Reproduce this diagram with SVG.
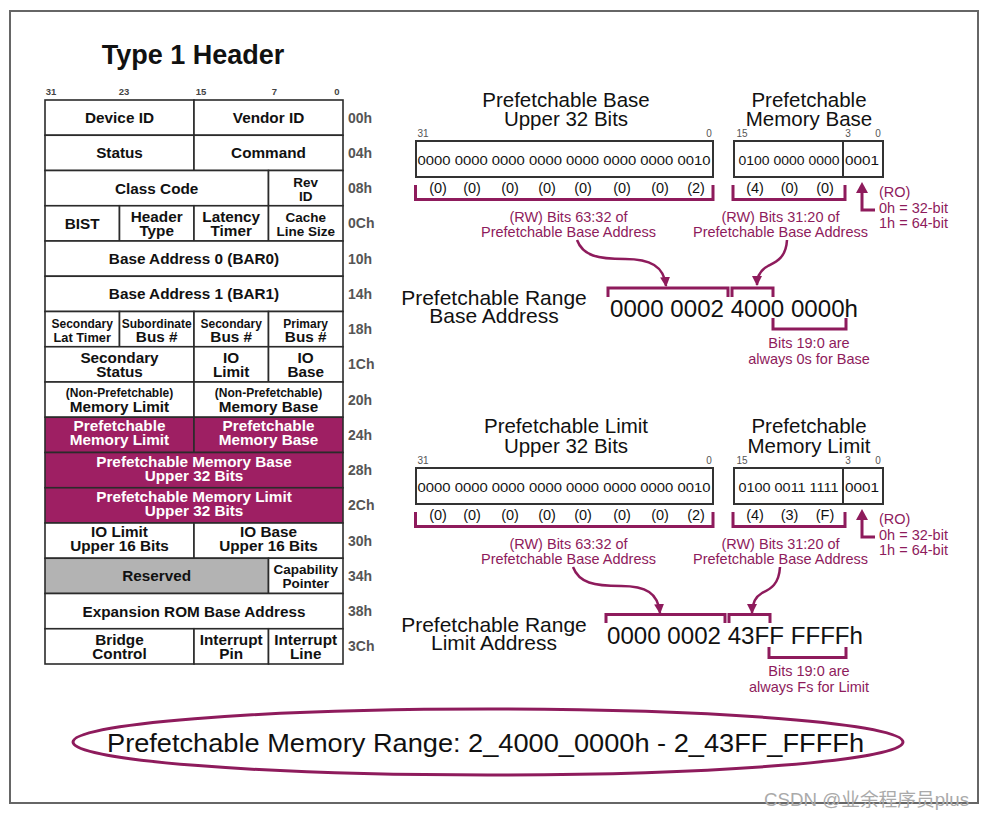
<svg xmlns="http://www.w3.org/2000/svg" width="987" height="819" viewBox="0 0 987 819">
<defs>
<style>
.cell{fill:#fff;stroke:#2b2b2b;stroke-width:1.6}
.pf{fill:#9E1F63;stroke:#2b2b2b;stroke-width:1.6}
.rsv{fill:#B3B3B3;stroke:#2b2b2b;stroke-width:1.6}
.t{font-family:"Liberation Sans",Arial,sans-serif;font-weight:bold;font-size:15.3px;fill:#111;text-anchor:middle}
.ts{font-size:12px}
.tl{font-size:12.8px}
.tm{font-size:13.5px}
.w{fill:#fff}
.off{font-family:"Liberation Sans",Arial,sans-serif;font-weight:bold;font-size:14px;fill:#555}
.bit{font-family:"Liberation Sans",Arial,sans-serif;font-weight:bold;font-size:9.5px;fill:#444;text-anchor:middle}
.ttl{font-family:"Liberation Sans",Arial,sans-serif;font-weight:bold;font-size:27px;fill:#111;text-anchor:middle}
.h{font-family:"Liberation Sans",Arial,sans-serif;font-size:20.5px;fill:#111;text-anchor:middle}
.n{font-family:"Liberation Sans",Arial,sans-serif;font-size:10px;fill:#555;text-anchor:middle}
.box{fill:#fff;stroke:#333;stroke-width:2}
.bin{font-family:"Liberation Sans",Arial,sans-serif;font-size:13px;fill:#111}
.nib{font-family:"Liberation Sans",Arial,sans-serif;font-size:14.5px;fill:#111;text-anchor:middle}
.m{font-family:"Liberation Sans",Arial,sans-serif;font-size:14.5px;fill:#8E1B5C;text-anchor:middle}
.ms{font-family:"Liberation Sans",Arial,sans-serif;font-size:14.5px;fill:#8E1B5C}
.br{fill:none;stroke:#8E1B5C;stroke-width:3}
.ar{fill:none;stroke:#8E1B5C;stroke-width:2.5}
.big{font-family:"Liberation Sans",Arial,sans-serif;font-size:23.5px;fill:#111}
.lbl{font-family:"Liberation Sans",Arial,sans-serif;font-size:21px;fill:#111;text-anchor:middle}
</style>
<marker id="ah" viewBox="0 0 10 10" refX="9" refY="5" markerWidth="10" markerHeight="10" markerUnits="userSpaceOnUse" orient="auto"><path d="M0,0 L10,5 L0,10 z" fill="#8E1B5C"/></marker>
</defs>
<rect x="0" y="0" width="987" height="819" fill="#fff"/>
<rect x="10" y="11" width="968" height="792" fill="none" stroke="#666" stroke-width="2"/>

<g id="title">
<text class="ttl" x="193" y="64">Type 1 Header</text>
<text class="bit" x="51" y="95">31</text>
<text class="bit" x="124" y="95">23</text>
<text class="bit" x="201" y="95">15</text>
<text class="bit" x="274.5" y="95">7</text>
<text class="bit" x="337" y="95">0</text>
</g>

<g id="header-table">
<g id="r00">
<rect class="cell" x="45" y="100" width="149" height="35.25"/><rect class="cell" x="194" y="100" width="149" height="35.25"/>
<text class="t" x="119.5" y="123.1">Device ID</text><text class="t" x="268.5" y="123.1">Vendor ID</text>
<text class="off" x="348" y="122.6">00h</text></g>
<g id="r04">
<rect class="cell" x="45" y="135.25" width="149" height="35.25"/><rect class="cell" x="194" y="135.25" width="149" height="35.25"/>
<text class="t" x="119.5" y="158.4">Status</text><text class="t" x="268.5" y="158.4">Command</text>
<text class="off" x="348" y="157.9">04h</text></g>
<g id="r08">
<rect class="cell" x="45" y="170.5" width="223.5" height="35.25"/><rect class="cell" x="268.5" y="170.5" width="74.5" height="35.25"/>
<text class="t" x="156.7" y="193.6">Class Code</text>
<text class="t tm" x="305.7" y="187">Rev</text><text class="t tm" x="305.7" y="201">ID</text>
<text class="off" x="348" y="193.1">08h</text></g>
<g id="r0C">
<rect class="cell" x="45" y="205.75" width="74.5" height="35.25"/><rect class="cell" x="119.5" y="205.75" width="74.5" height="35.25"/><rect class="cell" x="194" y="205.75" width="74.5" height="35.25"/><rect class="cell" x="268.5" y="205.75" width="74.5" height="35.25"/>
<text class="t" x="82.2" y="228.9">BIST</text>
<text class="t" x="156.7" y="221.9">Header</text><text class="t" x="156.7" y="235.9">Type</text>
<text class="t" x="231.2" y="221.9">Latency</text><text class="t" x="231.2" y="235.9">Timer</text>
<text class="t tm" x="305.7" y="221.9">Cache</text><text class="t tm" x="305.7" y="235.9">Line Size</text>
<text class="off" x="348" y="228.4">0Ch</text></g>
<g id="r10">
<rect class="cell" x="45" y="241" width="298" height="35.25"/>
<text class="t" x="194" y="264.1">Base Address 0 (BAR0)</text>
<text class="off" x="348" y="263.6">10h</text></g>
<g id="r14">
<rect class="cell" x="45" y="276.25" width="298" height="35.25"/>
<text class="t" x="194" y="299.4">Base Address 1 (BAR1)</text>
<text class="off" x="348" y="298.9">14h</text></g>
<g id="r18">
<rect class="cell" x="45" y="311.5" width="74.5" height="35.25"/><rect class="cell" x="119.5" y="311.5" width="74.5" height="35.25"/><rect class="cell" x="194" y="311.5" width="74.5" height="35.25"/><rect class="cell" x="268.5" y="311.5" width="74.5" height="35.25"/>
<text class="t ts" x="82.2" y="327.5">Secondary</text><text class="t tl" x="82.2" y="341.5">Lat Timer</text>
<text class="t ts" x="156.7" y="327.5">Subordinate</text><text class="t" x="156.7" y="341.5">Bus #</text>
<text class="t ts" x="231.2" y="327.5">Secondary</text><text class="t" x="231.2" y="341.5">Bus #</text>
<text class="t ts" x="305.7" y="327.5">Primary</text><text class="t" x="305.7" y="341.5">Bus #</text>
<text class="off" x="348" y="334.1">18h</text></g>
<g id="r1C">
<rect class="cell" x="45" y="346.75" width="149" height="35.25"/><rect class="cell" x="194" y="346.75" width="74.5" height="35.25"/><rect class="cell" x="268.5" y="346.75" width="74.5" height="35.25"/>
<text class="t" x="119.5" y="362.9">Secondary</text><text class="t" x="119.5" y="376.9">Status</text>
<text class="t" x="231.2" y="362.9">IO</text><text class="t" x="231.2" y="376.9">Limit</text>
<text class="t" x="305.7" y="362.9">IO</text><text class="t" x="305.7" y="376.9">Base</text>
<text class="off" x="348" y="369.4">1Ch</text></g>
<g id="r20">
<rect class="cell" x="45" y="382" width="149" height="35.25"/><rect class="cell" x="194" y="382" width="149" height="35.25"/>
<text class="t ts" x="119.5" y="396.5">(Non-Prefetchable)</text><text class="t" x="119.5" y="411.5">Memory Limit</text>
<text class="t ts" x="268.5" y="396.5">(Non-Prefetchable)</text><text class="t" x="268.5" y="411.5">Memory Base</text>
<text class="off" x="348" y="404.6">20h</text></g>
<g id="r24">
<rect class="pf" x="45" y="417.25" width="149" height="35.25"/><rect class="pf" x="194" y="417.25" width="149" height="35.25"/>
<text class="t w" x="119.5" y="431.4">Prefetchable</text><text class="t w" x="119.5" y="445.4">Memory Limit</text>
<text class="t w" x="268.5" y="431.4">Prefetchable</text><text class="t w" x="268.5" y="445.4">Memory Base</text>
<text class="off" x="348" y="439.9">24h</text></g>
<g id="r28">
<rect class="pf" x="45" y="452.5" width="298" height="35.25"/>
<text class="t w" x="194" y="466.6">Prefetchable Memory Base</text><text class="t w" x="194" y="480.6">Upper 32 Bits</text>
<text class="off" x="348" y="475.1">28h</text></g>
<g id="r2C">
<rect class="pf" x="45" y="487.75" width="298" height="35.25"/>
<text class="t w" x="194" y="501.9">Prefetchable Memory Limit</text><text class="t w" x="194" y="515.9">Upper 32 Bits</text>
<text class="off" x="348" y="510.4">2Ch</text></g>
<g id="r30">
<rect class="cell" x="45" y="523" width="149" height="35.25"/><rect class="cell" x="194" y="523" width="149" height="35.25"/>
<text class="t" x="119.5" y="537.1">IO Limit</text><text class="t" x="119.5" y="551.1">Upper 16 Bits</text>
<text class="t" x="268.5" y="537.1">IO Base</text><text class="t" x="268.5" y="551.1">Upper 16 Bits</text>
<text class="off" x="348" y="545.6">30h</text></g>
<g id="r34">
<rect class="rsv" x="45" y="558.25" width="223.5" height="35.25"/><rect class="cell" x="268.5" y="558.25" width="74.5" height="35.25"/>
<text class="t" x="156.7" y="581.4">Reserved</text>
<text class="t tm" x="305.7" y="574.4">Capability</text><text class="t tm" x="305.7" y="588.4">Pointer</text>
<text class="off" x="348" y="580.9">34h</text></g>
<g id="r38">
<rect class="cell" x="45" y="593.5" width="298" height="35.25"/>
<text class="t" x="194" y="616.6">Expansion ROM Base Address</text>
<text class="off" x="348" y="616.1">38h</text></g>
<g id="r3C">
<rect class="cell" x="45" y="628.75" width="149" height="35.25"/><rect class="cell" x="194" y="628.75" width="74.5" height="35.25"/><rect class="cell" x="268.5" y="628.75" width="74.5" height="35.25"/>
<text class="t" x="119.5" y="644.9">Bridge</text><text class="t" x="119.5" y="658.9">Control</text>
<text class="t" x="231.2" y="644.9">Interrupt</text><text class="t" x="231.2" y="658.9">Pin</text>
<text class="t" x="305.7" y="644.9">Interrupt</text><text class="t" x="305.7" y="658.9">Line</text>
<text class="off" x="348" y="651.4">3Ch</text></g>
</g>

<g id="base-upper32">
<text class="h" x="566" y="106.5">Prefetchable Base</text>
<text class="h" x="566" y="126">Upper 32 Bits</text>
<text class="n" x="423" y="137">31</text><text class="n" x="709" y="137">0</text>
<rect class="box" x="416" y="141" width="297" height="36"/>
<text class="bin" x="417.5" y="164.5" textLength="293" lengthAdjust="spacingAndGlyphs">0000 0000 0000 0000 0000 0000 0000 0010</text>
<text class="nib" x="438" y="193">(0)</text><text class="nib" x="472" y="193">(0)</text><text class="nib" x="510" y="193">(0)</text><text class="nib" x="547" y="193">(0)</text><text class="nib" x="583" y="193">(0)</text><text class="nib" x="622" y="193">(0)</text><text class="nib" x="660" y="193">(0)</text><text class="nib" x="696" y="193">(2)</text>
<path class="br" d="M415.5,185 V199.5 H713 V185"/>
<text class="m" x="568.5" y="221.5">(RW) Bits 63:32 of</text>
<text class="m" x="568.5" y="237">Prefetchable Base Address</text>
</g>

<g id="mem-base">
<text class="h" x="809" y="106.5">Prefetchable</text>
<text class="h" x="809" y="126">Memory Base</text>
<text class="n" x="742" y="137">15</text><text class="n" x="848" y="137">3</text><text class="n" x="878" y="137">0</text>
<rect class="box" x="734" y="141" width="109" height="36"/><rect class="box" x="843" y="141" width="40" height="36"/>
<text class="bin" x="738.5" y="164.5" textLength="101" lengthAdjust="spacingAndGlyphs">0100 0000 0000</text>
<text class="bin" x="845" y="164.5" textLength="34" lengthAdjust="spacingAndGlyphs">0001</text>
<text class="nib" x="755" y="193">(4)</text><text class="nib" x="789.5" y="193">(0)</text><text class="nib" x="825" y="193">(0)</text>
<path class="br" d="M733,185 V199.5 H845 V185"/>
<text class="m" x="780.5" y="221.5">(RW) Bits 31:20 of</text>
<text class="m" x="780.5" y="237">Prefetchable Base Address</text>
<path d="M862,182 L868,193 L856,193 z" fill="#8E1B5C"/>
<path class="br" d="M862,192 V210 H875"/>
<text class="ms" x="879" y="197">(RO)</text>
<text class="ms" x="879" y="212.5">0h = 32-bit</text>
<text class="ms" x="879" y="227.5">1h = 64-bit</text>
</g>

<g id="base-address">
<text class="lbl" x="494" y="305">Prefetchable Range</text>
<text class="lbl" x="494" y="322.5">Base Address</text>
<text class="big" x="610" y="317" textLength="248" lengthAdjust="spacingAndGlyphs">0000 0002 4000 0000h</text>
<text class="m" x="809" y="348">Bits 19:0 are</text>
<text class="m" x="809" y="363.5">always 0s for Base</text>
</g>

<g id="limit-upper32">
<text class="h" x="566" y="432.5">Prefetchable Limit</text>
<text class="h" x="566" y="453">Upper 32 Bits</text>
<text class="n" x="423" y="464">31</text><text class="n" x="709" y="464">0</text>
<rect class="box" x="416" y="468" width="297" height="36"/>
<text class="bin" x="417.5" y="491.5" textLength="293" lengthAdjust="spacingAndGlyphs">0000 0000 0000 0000 0000 0000 0000 0010</text>
<text class="nib" x="438" y="520">(0)</text><text class="nib" x="472" y="520">(0)</text><text class="nib" x="510" y="520">(0)</text><text class="nib" x="547" y="520">(0)</text><text class="nib" x="583" y="520">(0)</text><text class="nib" x="622" y="520">(0)</text><text class="nib" x="660" y="520">(0)</text><text class="nib" x="696" y="520">(2)</text>
<path class="br" d="M415.5,512 V526.5 H713 V512"/>
<text class="m" x="568.5" y="548.5">(RW) Bits 63:32 of</text>
<text class="m" x="568.5" y="564">Prefetchable Base Address</text>
</g>

<g id="mem-limit">
<text class="h" x="809" y="432.5">Prefetchable</text>
<text class="h" x="809" y="453">Memory Limit</text>
<text class="n" x="742" y="464">15</text><text class="n" x="848" y="464">3</text><text class="n" x="878" y="464">0</text>
<rect class="box" x="734" y="468" width="109" height="36"/><rect class="box" x="843" y="468" width="40" height="36"/>
<text class="bin" x="738.5" y="491.5" textLength="100" lengthAdjust="spacingAndGlyphs">0100 0011 1111</text>
<text class="bin" x="845" y="491.5" textLength="34" lengthAdjust="spacingAndGlyphs">0001</text>
<text class="nib" x="755" y="520">(4)</text><text class="nib" x="789.5" y="520">(3)</text><text class="nib" x="825" y="520">(F)</text>
<path class="br" d="M733,512 V526.5 H845 V512"/>
<text class="m" x="780.5" y="548.5">(RW) Bits 31:20 of</text>
<text class="m" x="780.5" y="564">Prefetchable Base Address</text>
<path d="M862,509 L868,520 L856,520 z" fill="#8E1B5C"/>
<path class="br" d="M862,519 V537 H875"/>
<text class="ms" x="879" y="524">(RO)</text>
<text class="ms" x="879" y="539.5">0h = 32-bit</text>
<text class="ms" x="879" y="554.5">1h = 64-bit</text>
</g>

<g id="limit-address">
<text class="lbl" x="494" y="632">Prefetchable Range</text>
<text class="lbl" x="494" y="649.5">Limit Address</text>
<text class="big" x="607" y="644" textLength="256" lengthAdjust="spacingAndGlyphs">0000 0002 43FF FFFFh</text>
<text class="m" x="809" y="676">Bits 19:0 are</text>
<text class="m" x="809" y="691.5">always Fs for Limit</text>
</g>

<g id="connectors">
<path class="br" d="M608,297 V288 H728 V297"/>
<path class="br" d="M732,297 V288 H773 V297"/>
<path class="br" d="M773,318 V329 H846 V318"/>
<path class="ar" marker-end="url(#ah)" d="M577,240 C583,256 598,259 625,259 C650,259 664,266 666,286"/>
<path class="ar" marker-end="url(#ah)" d="M787,240 C786,258 776,262 768,266 C760,270 757,276 757,285"/>
<path class="br" d="M606,623 V614.5 H725 V623"/>
<path class="br" d="M729,623 V614.5 H770 V623"/>
<path class="br" d="M769,647 V657.5 H846 V647"/>
<path class="ar" marker-end="url(#ah)" d="M573,567 C579,583 594,586 621,586 C646,586 658,593 660,613"/>
<path class="ar" marker-end="url(#ah)" d="M780,567 C779,585 770,589 762,593 C755,597 752,603 752,613"/>
</g>

<g id="range">
<ellipse cx="488" cy="742" rx="415" ry="33" fill="none" stroke="#8E1B5C" stroke-width="3"/>
<text x="107" y="752" font-family="Liberation Sans, Arial, sans-serif" font-size="25.5" fill="#111" textLength="757" lengthAdjust="spacingAndGlyphs">Prefetchable Memory Range: 2_4000_0000h - 2_43FF_FFFFh</text>
</g>

<text x="764" y="806" font-family="Liberation Sans, 'Noto Sans CJK SC', sans-serif" font-size="18" fill="#aaa" textLength="205" lengthAdjust="spacingAndGlyphs">CSDN @业余程序员plus</text>
</svg>
